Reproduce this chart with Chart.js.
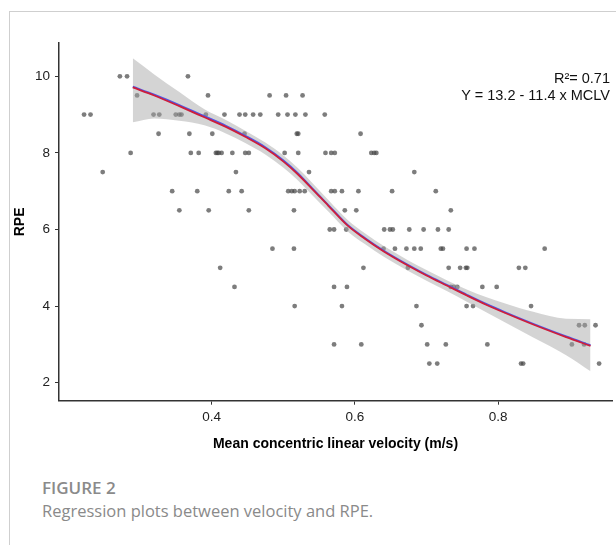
<!DOCTYPE html>
<html>
<head>
<meta charset="utf-8">
<script src="https://cdn.jsdelivr.net/npm/chart.js@4"></script>
<style>
  body { margin: 0; background: #fff; }
  #frame { position: absolute; left: 9px; top: 11px; width: 607px; height: 534px; border-left: 1px solid #cfcfcf; border-top: 1px solid #cfcfcf; }
  #chart { position: absolute; left: 0; top: 0; }
  .eq { position: absolute; right: 6px; font: 14.5px "Liberation Sans", Arial, sans-serif; line-height: 17px; color: #111; text-align: right; }
  .fig { position: absolute; left: 42px; font-family: "Open Sans", sans-serif; line-height: 20px; color: #8a8a8a; }
</style>
</head>
<body>
<div id="frame"></div>
<canvas id="chart" width="616" height="470"></canvas>
<div class="eq" style="top:70px">R²= 0.71</div>
<div class="eq" style="top:87px">Y = 13.2 - 11.4 x MCLV</div>
<div class="fig" style="top:478px; font-size:17px; font-weight:600">FIGURE 2</div>
<div class="fig" style="top:501px; font-size:16.5px">Regression plots between velocity and RPE.</div>
<script>
// observed points (mean concentric linear velocity, RPE)
const velocity = [
  0.272, 0.282, 0.367,
  0.296, 0.395, 0.481, 0.504, 0.527,
  0.222, 0.231, 0.319, 0.327, 0.350, 0.355, 0.358, 0.392, 0.418, 0.439, 0.447, 0.458, 0.468, 0.493, 0.506, 0.517, 0.531, 0.558,
  0.326, 0.369, 0.401, 0.446, 0.519, 0.521, 0.608,
  0.287, 0.371, 0.382, 0.406, 0.408, 0.410, 0.414, 0.429, 0.447, 0.452, 0.502, 0.521, 0.559, 0.567, 0.572, 0.623, 0.627, 0.630,
  0.248, 0.434, 0.536, 0.683,
  0.345, 0.380, 0.424, 0.442, 0.507, 0.512, 0.516, 0.523, 0.530, 0.567, 0.572, 0.582, 0.605, 0.652, 0.713,
  0.355, 0.396, 0.452, 0.515, 0.586, 0.602, 0.734,
  0.565, 0.571, 0.588, 0.641, 0.649, 0.653, 0.676, 0.696, 0.716, 0.731,
  0.485, 0.515, 0.640, 0.656, 0.672, 0.683, 0.692, 0.720, 0.723, 0.756, 0.767, 0.865,
  0.412, 0.612, 0.674, 0.731, 0.747, 0.755, 0.757, 0.829, 0.838,
  0.432, 0.571, 0.589, 0.734, 0.738, 0.743, 0.778, 0.798,
  0.516, 0.582, 0.686, 0.756, 0.765, 0.846,
  0.693, 0.913, 0.921, 0.936,
  0.571, 0.609, 0.701, 0.727, 0.785, 0.903, 0.920,
  0.704, 0.715, 0.832, 0.835, 0.941
]
const rpe = [
  10, 10, 10,
  9.5, 9.5, 9.5, 9.5, 9.5,
  9, 9, 9, 9, 9, 9, 9, 9, 9, 9, 9, 9, 9, 9, 9, 9, 9, 9,
  8.5, 8.5, 8.5, 8.5, 8.5, 8.5, 8.5,
  8, 8, 8, 8, 8, 8, 8, 8, 8, 8, 8, 8, 8, 8, 8, 8, 8, 8,
  7.5, 7.5, 7.5, 7.5,
  7, 7, 7, 7, 7, 7, 7, 7, 7, 7, 7, 7, 7, 7, 7,
  6.5, 6.5, 6.5, 6.5, 6.5, 6.5, 6.5,
  6, 6, 6, 6, 6, 6, 6, 6, 6, 6,
  5.5, 5.5, 5.5, 5.5, 5.5, 5.5, 5.5, 5.5, 5.5, 5.5, 5.5, 5.5,
  5, 5, 5, 5, 5, 5, 5, 5, 5,
  4.5, 4.5, 4.5, 4.5, 4.5, 4.5, 4.5, 4.5,
  4, 4, 4, 4, 4, 4,
  3.5, 3.5, 3.5, 3.5,
  3, 3, 3, 3, 3, 3, 3,
  2.5, 2.5, 2.5, 2.5, 2.5
]

// smoothed fit and its confidence band
const fitX = [0.29, 0.32, 0.355, 0.39, 0.42, 0.447, 0.475, 0.50, 0.52, 0.54, 0.563, 0.59, 0.614, 0.641, 0.674, 0.70, 0.729, 0.757, 0.784, 0.81, 0.849, 0.895, 0.929]
const fitRed = [9.71, 9.50, 9.22, 8.93, 8.68, 8.42, 8.12, 7.78, 7.45, 7.07, 6.62, 6.10, 5.76, 5.42, 5.06, 4.80, 4.53, 4.27, 4.03, 3.82, 3.52, 3.19, 2.96]
const fitBlue = [9.73, 9.52, 9.25, 8.96, 8.71, 8.45, 8.15, 7.81, 7.48, 7.09, 6.64, 6.12, 5.78, 5.44, 5.08, 4.82, 4.55, 4.29, 4.05, 3.84, 3.54, 3.21, 2.98]
const bandUpper = [10.47, 10.05, 9.59, 9.14, 8.86, 8.58, 8.27, 7.94, 7.61, 7.23, 6.77, 6.25, 5.90, 5.56, 5.20, 4.94, 4.67, 4.43, 4.23, 4.07, 3.85, 3.67, 3.66]
const bandLower = [8.80, 8.90, 8.84, 8.72, 8.51, 8.26, 7.96, 7.62, 7.29, 6.91, 6.47, 5.95, 5.62, 5.28, 4.92, 4.66, 4.39, 4.11, 3.83, 3.57, 3.18, 2.72, 2.30]

const xTicks = [0.4, 0.6, 0.8]
const yTicks = [2, 4, 6, 8, 10]

const pts = velocity.map((v, i) => ({ x: v, y: rpe[i] }))
const curve = ys => fitX.map((x, i) => ({ x: x, y: ys[i] }))

const tickFont = { family: "'Liberation Sans', Arial, sans-serif", size: 13.5 }
const titleFont = { family: "'Liberation Sans', Arial, sans-serif", size: 14, weight: "bold" }

const lineBase = {
  type: "line",
  showLine: true,
  pointRadius: 0,
  cubicInterpolationMode: "monotone",
}

new Chart(document.getElementById("chart"), {
  type: "scatter",
  data: {
    datasets: [
      { ...lineBase, data: curve(fitRed), borderColor: "rgb(205,30,60)", borderWidth: 1.8, order: 0 },
      { ...lineBase, data: curve(fitBlue), borderColor: "rgb(80,90,230)", borderWidth: 1.8, order: 1 },
      { ...lineBase, data: curve(bandUpper), borderWidth: 0, borderColor: "rgba(0,0,0,0)", order: 2 },
      { ...lineBase, data: curve(bandLower), borderWidth: 0, borderColor: "rgba(0,0,0,0)",
        fill: "-1", backgroundColor: "rgba(165,165,165,0.48)", order: 2 },
      { data: pts, pointRadius: 2.4, pointBorderWidth: 0,
        backgroundColor: "rgba(70,70,70,0.7)", order: 3 },
    ],
  },
  options: {
    responsive: false,
    animation: false,
    devicePixelRatio: 1,
    layout: { padding: { top: 43, left: 0, right: 0, bottom: 0 } },
    plugins: { legend: { display: false }, tooltip: { enabled: false } },
    scales: {
      x: {
        type: "linear",
        min: 0.187,
        max: 0.959,
        afterFit: s => { s.height = 69.3 },
        afterBuildTicks: s => { s.ticks = xTicks.map(v => ({ value: v })) },
        ticks: { font: tickFont, color: "#222", padding: 4, callback: v => v.toFixed(1), maxRotation: 0 },
        grid: { drawOnChartArea: false, drawTicks: true, tickLength: 4, color: "#333" },
        border: { display: true, color: "#333", width: 1.5 },
        title: { display: true, text: "Mean concentric linear velocity (m/s)", font: titleFont, color: "#000", padding: { bottom: 17 } },
      },
      y: {
        min: 1.53,
        max: 10.87,
        afterFit: s => { s.width = 59 },
        afterBuildTicks: s => { s.ticks = yTicks.map(v => ({ value: v })) },
        ticks: { font: tickFont, color: "#222", padding: 5 },
        grid: { drawOnChartArea: false, drawTicks: true, tickLength: 4, color: "#333" },
        border: { display: true, color: "#333", width: 1.5 },
        title: { display: true, text: "RPE", font: titleFont, color: "#000", padding: { top: 12 } },
      },
    },
  },
})
</script>
</body>
</html>
